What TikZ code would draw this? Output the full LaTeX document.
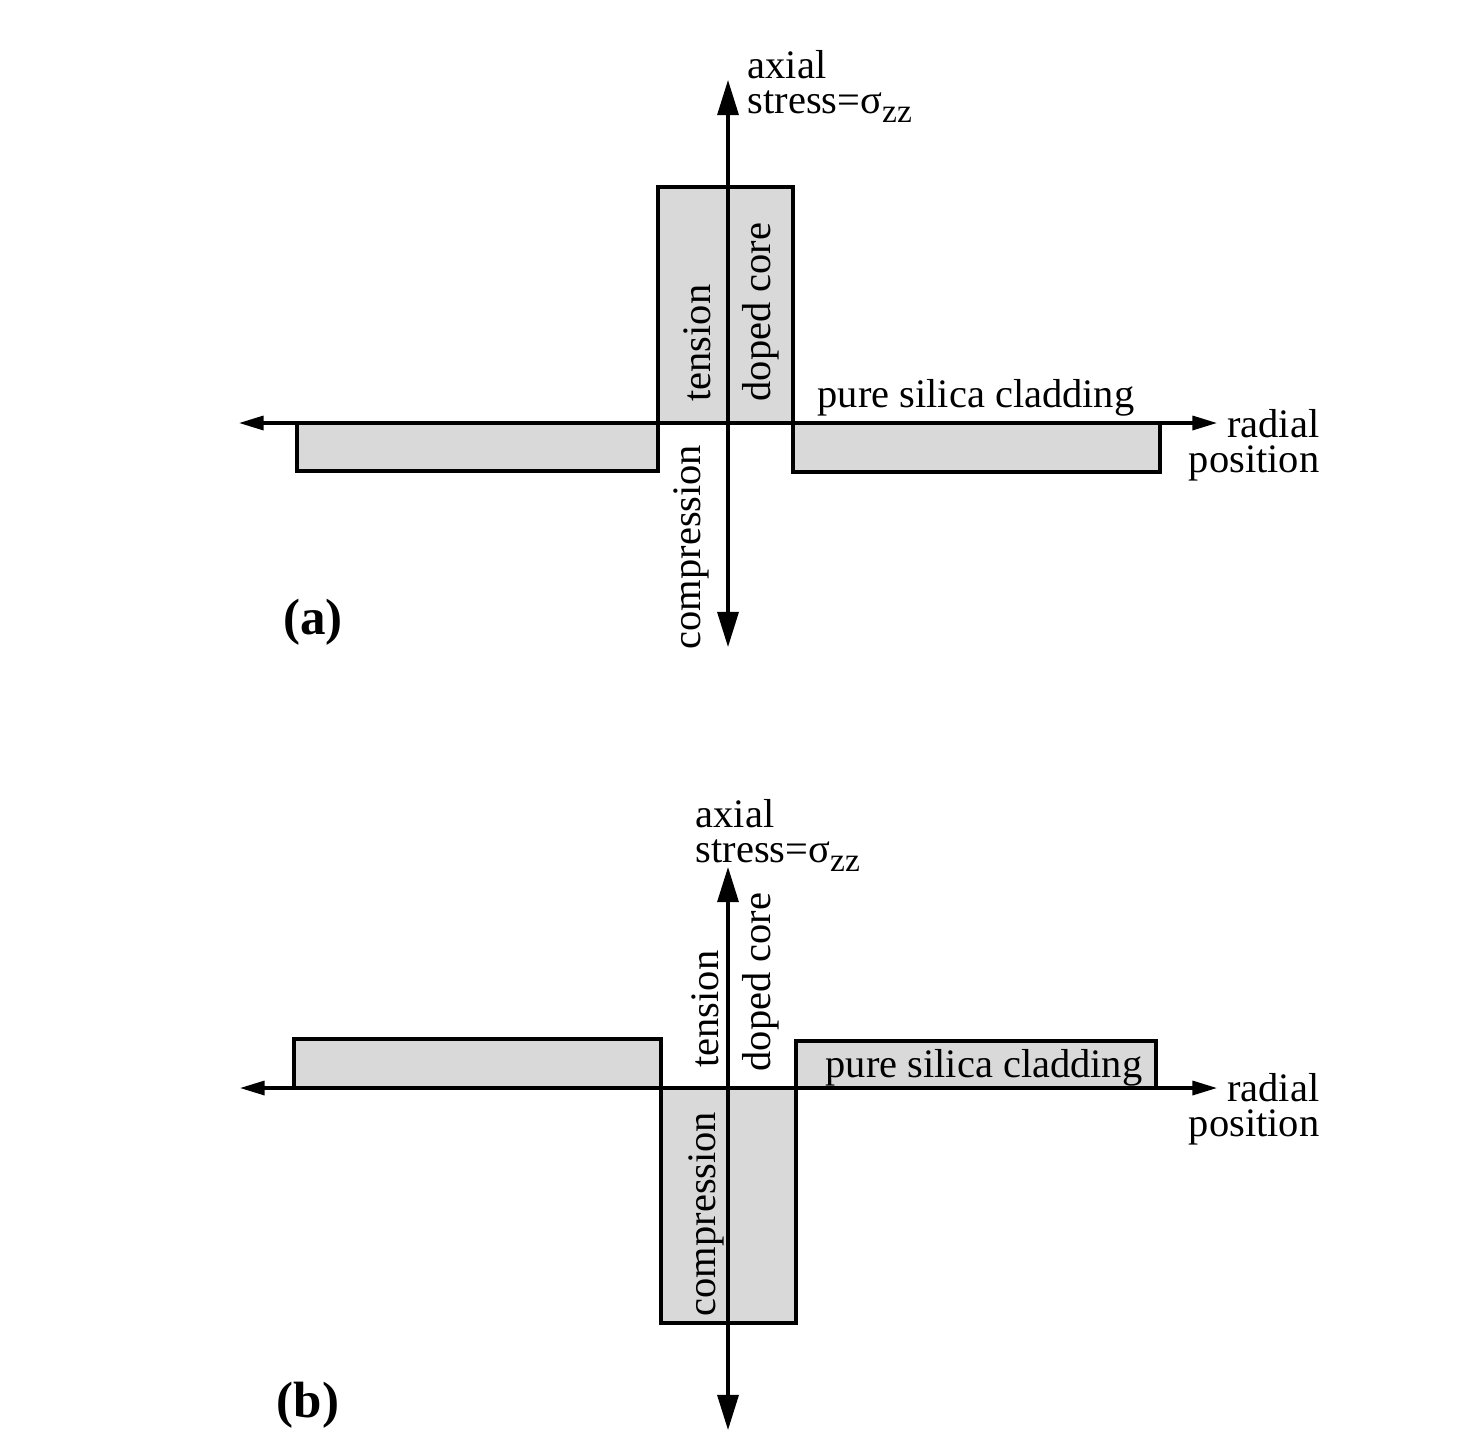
\documentclass[tikz,border=0pt]{standalone}
\usepackage{fontspec}
\setmainfont{Liberation Serif}
\usetikzlibrary{arrows.meta}
\definecolor{gristige}{RGB}{217,217,217}
\newcommand{\indzz}{\raisebox{-0.22em}{\fontsize{9.5}{9}\selectfont zz}}
\begin{document}
\begin{tikzpicture}[x=0.01cm,y=-0.01cm]
\tikzset{barre/.style={draw, line width=0.9pt, fill=gristige},
  axeh/.style={line width=0.9pt, {Triangle[length=7pt,width=4pt]}-{Triangle[length=7pt,width=4pt]}},
  axev/.style={line width=0.9pt, {Triangle[length=10pt,width=6pt]}-{Triangle[length=10pt,width=6pt]}},
  texte/.style={inner sep=0pt, font=\fontsize{11.5}{10}\selectfont},
  texterot/.style={texte, rotate=90, anchor=base},
  lettre/.style={inner sep=0pt, font=\fontsize{14.5}{15}\selectfont\bfseries}}
\useasboundingbox (0,0) rectangle (1470,1454);
% (a)
\draw[barre] (297,423) rectangle (658,471);
\draw[barre] (658,187) rectangle (793,423);
\draw[barre] (793,423) rectangle (1160,472);
\coordinate (GA) at (239,423);
\coordinate (DA) at (1217,423);
\coordinate (HA) at (728,80);
\coordinate (BA) at (728,647);
\draw[axeh] (GA) -- (DA);
\draw[axev] (BA) -- (HA);
\node[texte, align=left, anchor=north west] (axialA) at (747,50) {axial\\stress=σ\indzz};
\node[texte, align=right, anchor=north east] (radialA) at (1320,409) {radial\\position};
\node[texte, anchor=base] (gaineA) at (976,407) {pure silica cladding};
\node[texterot] (tensionA) at (710,343) {tension};
\node[texterot] (coeurA) at (770,312) {doped core};
\node[texterot] (compA) at (700,547) {compression};
\node[lettre] (lettreA) at (313,622) {(a)};
% (b)
\draw[barre] (294,1039) rectangle (661,1088);
\draw[barre] (661,1088) rectangle (796,1323);
\draw[barre] (796,1041) rectangle (1156,1088);
\coordinate (GB) at (240,1088);
\coordinate (DB) at (1217,1088);
\coordinate (HB) at (728,867);
\coordinate (BB) at (728,1430);
\draw[axeh] (GB) -- (DB);
\draw[axev] (BB) -- (HB);
\node[texte, align=left, anchor=north west] (axialB) at (695,799) {axial\\stress=σ\indzz};
\node[texte, align=right, anchor=north east] (radialB) at (1320,1073) {radial\\position};
\node[texte, anchor=base] (gaineB) at (984,1077) {pure silica cladding};
\node[texterot] (tensionB) at (718,1009) {tension};
\node[texterot] (coeurB) at (770,982) {doped core};
\node[texterot] (compB) at (715,1214) {compression};
\node[lettre] (lettreB) at (308,1405) {(b)};
\end{tikzpicture}
\end{document}
